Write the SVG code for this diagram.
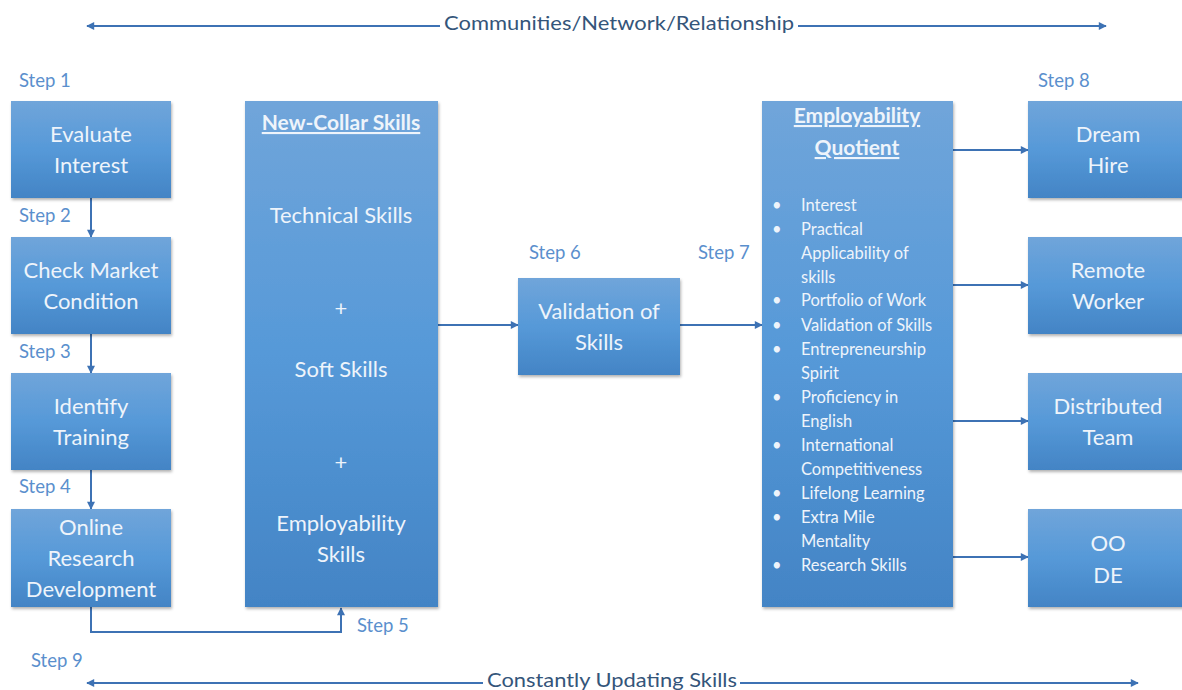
<svg xmlns="http://www.w3.org/2000/svg" width="1182" height="690" viewBox="0 0 1182 690">
<defs>
<linearGradient id="g" x1="0" y1="0" x2="0" y2="1">
<stop offset="0" stop-color="#70a5da"/>
<stop offset="0.5" stop-color="#5699d8"/>
<stop offset="1" stop-color="#4384c5"/>
</linearGradient>
<filter id="sh" x="-10%" y="-10%" width="120%" height="120%">
<feDropShadow dx="1" dy="2" stdDeviation="1.5" flood-color="#000" flood-opacity="0.3"/>
</filter>
<marker id="ah" viewBox="0 0 10 10" refX="9" refY="5" markerWidth="9" markerHeight="8" markerUnits="userSpaceOnUse" orient="auto-start-reverse">
<path d="M0,0 L10,5 L0,10 z" fill="#3d72b4"/>
</marker>
<style>
.box{fill:url(#g);filter:url(#sh);}
.t{font-family:Lato,"Liberation Sans",sans-serif;font-size:22px;fill:#eef4fb;text-anchor:middle;}
.h{font-weight:bold;text-decoration:underline;font-size:21px;}
.b{font-family:Lato,"Liberation Sans",sans-serif;font-size:16.5px;fill:#eef4fb;}
.s{font-family:Lato,"Liberation Sans",sans-serif;font-size:18.5px;fill:#5a8fcd;}
.lab{font-family:Lato,"Liberation Sans",sans-serif;font-size:20px;fill:#34557a;}
.c{fill:none;stroke:#3d72b4;stroke-width:2;}
</style>
</defs>
<rect width="1182" height="690" fill="#fff"/>

<g id="connectors">
<line class="c" x1="440" y1="26" x2="87" y2="26" marker-end="url(#ah)"/>
<line class="c" x1="798" y1="26" x2="1106" y2="26" marker-end="url(#ah)"/>
<line class="c" x1="91" y1="198" x2="91" y2="237" marker-end="url(#ah)"/>
<line class="c" x1="91" y1="334" x2="91" y2="373" marker-end="url(#ah)"/>
<line class="c" x1="91" y1="470" x2="91" y2="509" marker-end="url(#ah)"/>
<path class="c" d="M91,607 V632 H341 V608" marker-end="url(#ah)"/>
<line class="c" x1="438" y1="325" x2="518" y2="325" marker-end="url(#ah)"/>
<line class="c" x1="680" y1="325" x2="762" y2="325" marker-end="url(#ah)"/>
<line class="c" x1="953" y1="150" x2="1028" y2="150" marker-end="url(#ah)"/>
<line class="c" x1="953" y1="285" x2="1028" y2="285" marker-end="url(#ah)"/>
<line class="c" x1="953" y1="421" x2="1028" y2="421" marker-end="url(#ah)"/>
<line class="c" x1="953" y1="557" x2="1028" y2="557" marker-end="url(#ah)"/>
<line class="c" x1="483" y1="683" x2="87" y2="683" marker-end="url(#ah)"/>
<line class="c" x1="740" y1="683" x2="1138" y2="683" marker-end="url(#ah)"/>
</g>

<text class="lab" x="619" y="30" text-anchor="middle" textLength="350" lengthAdjust="spacingAndGlyphs">Communities/Network/Relationship</text>
<text class="lab" x="612" y="687" text-anchor="middle" textLength="250" lengthAdjust="spacingAndGlyphs">Constantly Updating Skills</text>

<g id="steps">
<text class="s" x="19" y="87">Step 1</text>
<text class="s" x="19" y="222">Step 2</text>
<text class="s" x="19" y="358">Step 3</text>
<text class="s" x="19" y="493">Step 4</text>
<text class="s" x="357" y="632">Step 5</text>
<text class="s" x="529" y="259">Step 6</text>
<text class="s" x="698" y="259">Step 7</text>
<text class="s" x="1038" y="87">Step 8</text>
<text class="s" x="31" y="667">Step 9</text>
</g>

<g id="evaluate">
<rect class="box" x="11" y="101" width="160" height="97"/>
<text class="t" x="91" y="142">Evaluate</text>
<text class="t" x="91" y="173">Interest</text>
</g>
<g id="market">
<rect class="box" x="11" y="237" width="160" height="97"/>
<text class="t" x="91" y="278">Check Market</text>
<text class="t" x="91" y="309">Condition</text>
</g>
<g id="training">
<rect class="box" x="11" y="373" width="160" height="97"/>
<text class="t" x="91" y="414">Identify</text>
<text class="t" x="91" y="445">Training</text>
</g>
<g id="online">
<rect class="box" x="11" y="509" width="160" height="98"/>
<text class="t" x="91" y="535">Online</text>
<text class="t" x="91" y="566">Research</text>
<text class="t" x="91" y="597">Development</text>
</g>

<g id="newcollar">
<rect class="box" x="245" y="101" width="193" height="506"/>
<text class="t h" x="341" y="130">New-Collar Skills</text>
<text class="t" x="341" y="223">Technical Skills</text>
<text class="t" x="341" y="316">+</text>
<text class="t" x="341" y="377">Soft Skills</text>
<text class="t" x="341" y="470">+</text>
<text class="t" x="341" y="531">Employability</text>
<text class="t" x="341" y="562">Skills</text>
</g>

<g id="validation">
<rect class="box" x="518" y="278" width="162" height="97"/>
<text class="t" x="599" y="319">Validation of</text>
<text class="t" x="599" y="350">Skills</text>
</g>

<g id="eq">
<rect class="box" x="762" y="101" width="191" height="506"/>
<text class="t h" x="857" y="123">Employability</text>
<text class="t h" x="857" y="155">Quotient</text>
<g class="b">
<text x="772" y="211">•</text><text x="801" y="211">Interest</text>
<text x="772" y="235">•</text><text x="801" y="235">Practical</text>
<text x="801" y="259">Applicability of</text>
<text x="801" y="283">skills</text>
<text x="772" y="306">•</text><text x="801" y="306">Portfolio of Work</text>
<text x="772" y="331">•</text><text x="801" y="331">Validation of Skills</text>
<text x="772" y="355">•</text><text x="801" y="355">Entrepreneurship</text>
<text x="801" y="379">Spirit</text>
<text x="772" y="403">•</text><text x="801" y="403">Proficiency in</text>
<text x="801" y="427">English</text>
<text x="772" y="451">•</text><text x="801" y="451">International</text>
<text x="801" y="475">Competitiveness</text>
<text x="772" y="499">•</text><text x="801" y="499">Lifelong Learning</text>
<text x="772" y="523">•</text><text x="801" y="523">Extra Mile</text>
<text x="801" y="547">Mentality</text>
<text x="772" y="571">•</text><text x="801" y="571">Research Skills</text>
</g>
</g>

<g id="dreamhire">
<rect class="box" x="1028" y="101" width="160" height="97"/>
<text class="t" x="1108" y="142">Dream</text>
<text class="t" x="1108" y="173">Hire</text>
</g>
<g id="remote">
<rect class="box" x="1028" y="237" width="160" height="97"/>
<text class="t" x="1108" y="278">Remote</text>
<text class="t" x="1108" y="309">Worker</text>
</g>
<g id="distributed">
<rect class="box" x="1028" y="373" width="160" height="97"/>
<text class="t" x="1108" y="414">Distributed</text>
<text class="t" x="1108" y="445">Team</text>
</g>
<g id="oode">
<rect class="box" x="1028" y="509" width="160" height="98"/>
<text class="t" x="1108" y="551">OO</text>
<text class="t" x="1108" y="583">DE</text>
</g>
</svg>
